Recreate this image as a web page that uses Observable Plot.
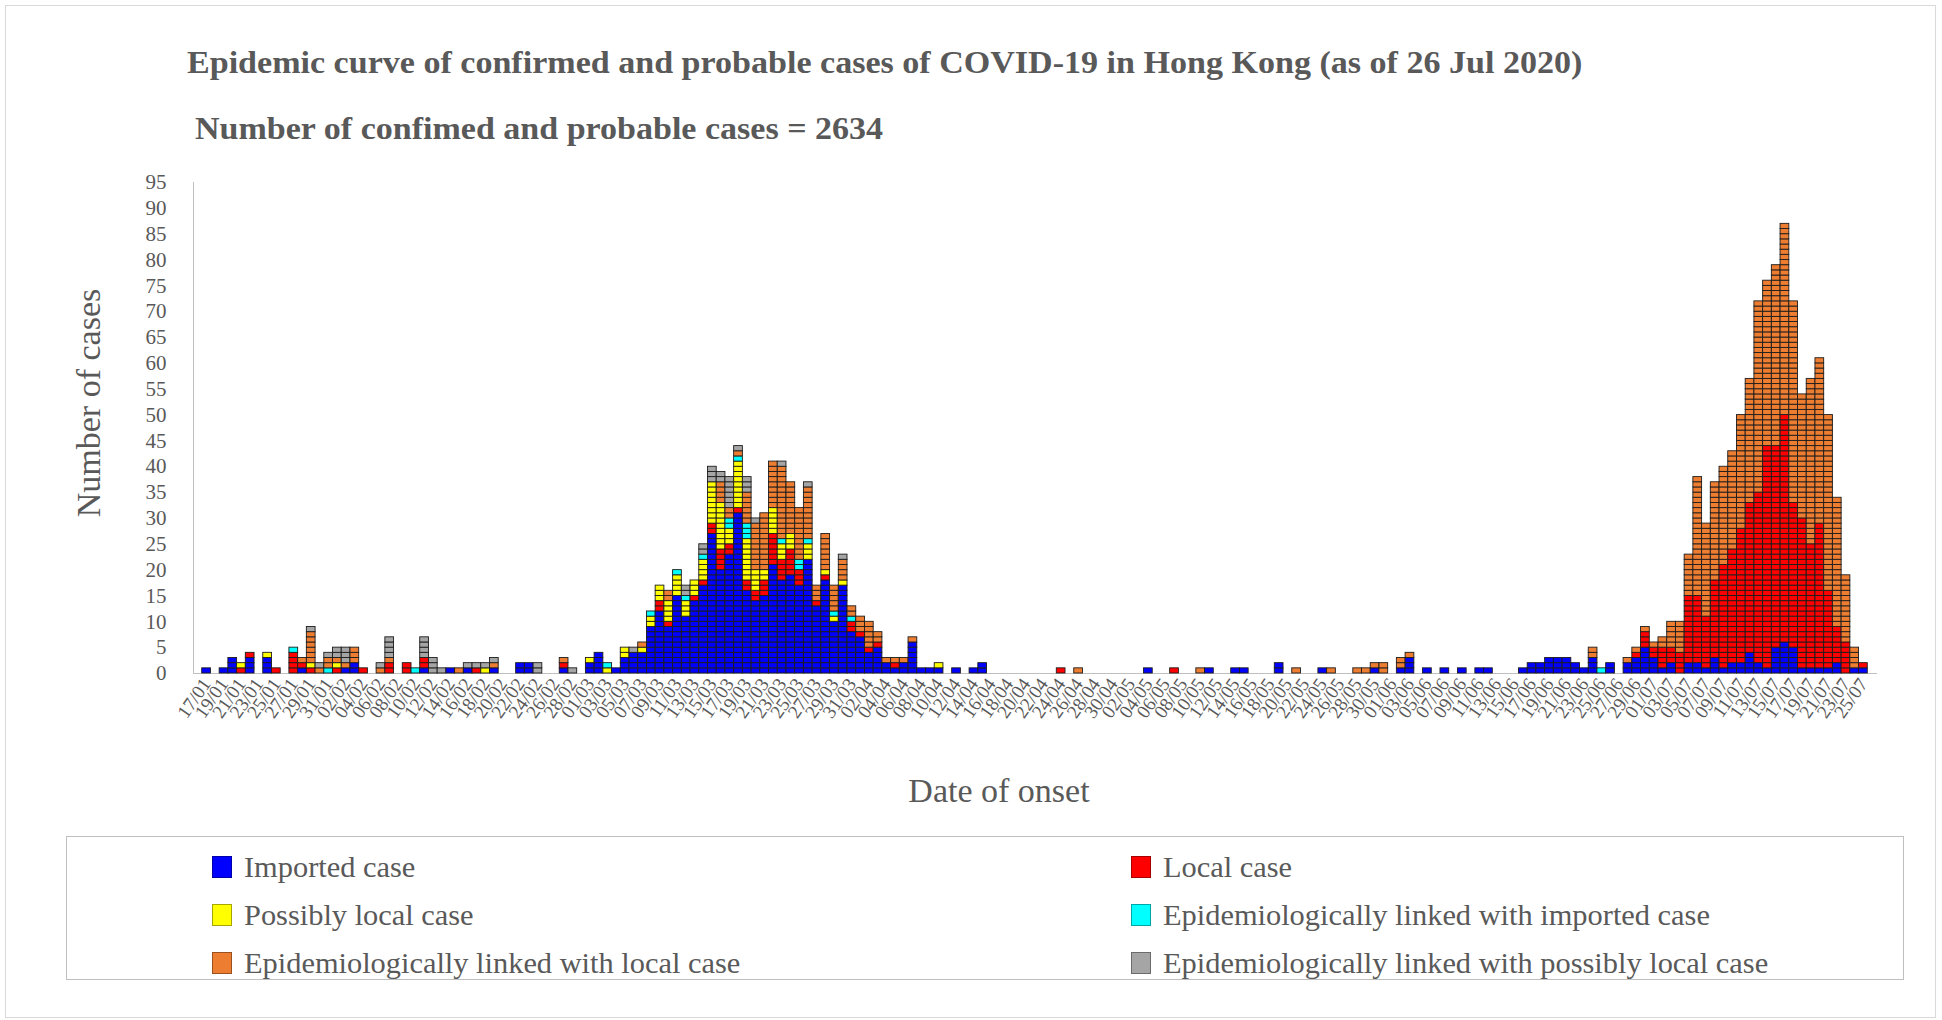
<!DOCTYPE html>
<html>
<head>
<meta charset="utf-8">
<script src="https://cdn.jsdelivr.net/npm/d3@7"></script>
<script src="https://cdn.jsdelivr.net/npm/@observablehq/plot@0.6"></script>
<style>
  html, body { margin: 0; padding: 0; background: #fff; width: 1942px; height: 1020px; overflow: hidden;
    font-family: "Liberation Serif", "Times New Roman", serif; }
  #frame { position: absolute; left: 5px; top: 5px; width: 1931px; height: 1013px; border: 1px solid #d9d9d9; box-sizing: border-box; }
  #title { position: absolute; left: 187px; top: 44px; font-weight: bold; font-size: 32px; line-height: 36px; color: #595959; white-space: nowrap;
    transform: scaleX(1.064); transform-origin: 0 50%; }
  #subtitle { position: absolute; left: 195px; top: 110px; font-weight: bold; font-size: 32px; line-height: 36px; color: #595959; white-space: nowrap;
    transform: scaleX(1.063); transform-origin: 0 50%; }
  #chart { position: absolute; left: 0; top: 150px; }
  #chart svg { overflow: visible; }
  #chart g[aria-label^="x-axis"] text { font-size: 19px; fill: #595959; }
  #chart g[aria-label^="y-axis"] text { font-size: 21px; fill: #595959; }
  #legend { position: absolute; left: 66px; top: 836px; width: 1838px; height: 144px; border: 1px solid #bfbfbf; box-sizing: border-box; }
  .item { position: absolute; height: 30px; display: flex; align-items: center; font-size: 30.4px; color: #595959; white-space: nowrap; }
  .sw { width: 20px; height: 22px; margin-right: 12px; box-sizing: border-box; border: 1px solid rgba(0,0,0,0.35); flex: none; }
</style>
</head>
<body>
<div id="frame"></div>
<div id="title">Epidemic curve of confirmed and probable cases of COVID-19 in Hong Kong (as of 26 Jul 2020)</div>
<div id="subtitle">Number of confimed and probable cases = 2634</div>
<div id="chart"></div>
<div id="legend"></div>
<script>
// ---- categories ----
const startDate = "2020-01-17";
const endDate = "2020-07-25";
const dates = d3.utcDay.range(new Date(startDate + "T00:00Z"), d3.utcDay.offset(new Date(endDate + "T00:00Z"), 1)).map(d3.utcFormat("%d/%m"));
const yTicks = [0, 5, 10, 15, 20, 25, 30, 35, 40, 45, 50, 55, 60, 65, 70, 75, 80, 85, 90, 95];

const seriesNames = [
  "Imported case",
  "Local case",
  "Possibly local case",
  "Epidemiologically linked with imported case",
  "Epidemiologically linked with local case",
  "Epidemiologically linked with possibly local case"
];
const seriesColors = ["#0000FF", "#FF0000", "#FFFF00", "#00FFFF", "#ED7D31", "#A5A5A5"];
const legendOrder = [0, 1, 2, 3, 4, 5];

// ---- daily values (17/01 .. 25/07), rows of 10 days ----
const imported = [
  1,0,1,3,0,3,0,3,0,0,
  0,1,0,0,0,0,1,2,0,0,
  0,0,0,0,0,1,0,0,1,0,
  1,0,0,1,0,0,2,2,0,0,
  0,1,0,0,2,4,0,1,3,4,
  4,9,12,9,15,11,14,17,27,20,
  23,31,16,14,15,21,18,19,17,22,
  13,18,10,17,8,7,4,5,2,1,
  2,6,1,1,1,0,1,0,1,2,
  0,0,0,0,0,0,0,0,0,0,
  0,0,0,0,0,0,0,0,1,0,
  0,0,0,0,0,1,0,0,1,1,
  0,0,0,2,0,0,0,0,1,0,
  0,0,0,0,1,0,0,1,3,0,
  1,0,1,0,1,0,1,1,0,0,
  0,1,2,2,3,3,3,2,1,3,
  0,2,0,2,3,5,3,1,2,0,
  2,2,1,3,1,2,2,4,2,1,
  5,6,5,1,1,1,1,2,0,1,1
];
const local = [
  0,0,0,0,1,1,0,0,1,0,
  4,1,1,0,0,1,0,0,1,0,
  0,2,0,2,0,2,0,0,0,0,
  0,1,0,0,0,0,0,0,0,0,
  0,1,0,0,0,0,0,0,0,0,
  0,0,2,1,0,0,1,1,2,4,
  2,1,2,2,3,6,4,5,3,0,
  1,1,0,0,2,1,1,1,0,1,
  0,0,0,0,0,0,0,0,0,0,
  0,0,0,0,0,0,0,0,1,0,
  0,0,0,0,0,0,0,0,0,0,
  0,1,0,0,0,0,0,0,0,0,
  0,0,0,0,0,0,0,0,0,0,
  0,0,0,0,0,0,0,0,0,0,
  0,0,0,0,0,0,0,0,0,0,
  0,0,0,0,0,0,0,0,0,0,
  0,0,0,0,1,3,2,4,3,4,
  13,13,10,15,20,22,26,29,33,43,
  39,44,28,29,24,28,15,7,6,0,1
];
const possiblyLocal = [
  0,0,0,0,1,0,0,1,0,0,
  0,0,1,0,0,1,0,0,0,0,
  0,0,0,0,0,0,0,0,0,0,
  0,0,1,0,0,0,0,0,0,0,
  0,0,0,0,1,0,1,0,2,0,
  1,2,3,4,4,3,3,4,8,9,
  3,9,8,4,2,5,3,3,0,3,
  0,1,1,1,0,0,0,0,0,0,
  0,0,0,0,1,0,0,0,0,0,
  0,0,0,0,0,0,0,0,0,0,
  0,0,0,0,0,0,0,0,0,0,
  0,0,0,0,0,0,0,0,0,0,
  0,0,0,0,0,0,0,0,0,0,
  0,0,0,0,0,0,0,0,0,0,
  0,0,0,0,0,0,0,0,0,0,
  0,0,0,0,0,0,0,0,0,0,
  0,0,0,0,0,0,0,0,0,0,
  0,0,0,0,0,0,0,0,0,0,
  0,0,0,0,0,0,0,0,0,0,0
];
const epiImported = [
  0,0,0,0,0,0,0,0,0,0,
  1,0,0,0,1,0,0,0,0,0,
  0,0,0,0,1,0,0,0,0,0,
  0,0,0,0,0,0,0,0,0,0,
  0,0,0,0,0,0,1,0,0,0,
  0,1,0,0,1,1,0,1,0,0,
  2,1,3,0,0,0,1,0,2,1,
  0,0,1,0,1,0,0,0,0,0,
  0,0,0,0,0,0,0,0,0,0,
  0,0,0,0,0,0,0,0,0,0,
  0,0,0,0,0,0,0,0,0,0,
  0,0,0,0,0,0,0,0,0,0,
  0,0,0,0,0,0,0,0,0,0,
  0,0,0,0,0,0,0,0,0,0,
  0,0,0,0,0,0,0,0,0,0,
  0,0,0,0,0,0,0,0,0,0,
  1,0,0,0,0,0,0,0,0,0,
  0,0,0,0,0,0,0,0,0,0,
  0,0,0,0,0,0,0,0,0,0,0
];
const epiLocal = [
  0,0,0,0,0,0,0,0,0,0,
  0,1,6,1,2,1,1,3,0,0,
  1,1,0,0,0,0,0,0,0,1,
  0,0,0,1,0,0,0,0,0,0,
  0,1,0,0,0,0,0,0,0,0,
  1,0,0,2,0,0,0,0,0,4,
  2,1,6,9,11,9,14,10,10,10,
  3,7,5,4,2,3,5,2,1,1,
  1,1,0,0,0,0,0,0,0,0,
  0,0,0,0,0,0,0,0,0,0,
  1,0,0,0,0,0,0,0,0,0,
  0,0,0,0,1,0,0,0,0,0,
  0,0,0,0,0,1,0,0,0,1,
  0,0,1,1,1,2,0,2,1,0,
  0,0,0,0,0,0,0,0,0,0,
  0,0,0,0,0,0,0,0,0,2,
  0,0,0,1,1,1,1,2,5,6,
  8,23,18,19,19,19,22,24,37,32,
  35,37,39,24,32,32,34,25,13,4,0
];
const epiPossiblyLocal = [
  0,0,0,0,0,0,0,0,0,0,
  0,0,1,1,1,2,3,0,0,0,
  1,4,0,0,0,4,3,1,0,0,
  1,1,1,1,0,0,0,0,2,0,
  0,0,1,0,0,0,0,0,0,1,
  0,0,0,0,0,2,0,2,3,2,
  6,1,3,1,0,0,1,0,0,1,
  0,0,0,1,0,0,0,0,0,0,
  0,0,0,0,0,0,0,0,0,0,
  0,0,0,0,0,0,0,0,0,0,
  0,0,0,0,0,0,0,0,0,0,
  0,0,0,0,0,0,0,0,0,0,
  0,0,0,0,0,0,0,0,0,0,
  0,0,0,0,0,0,0,0,0,0,
  0,0,0,0,0,0,0,0,0,0,
  0,0,0,0,0,0,0,0,0,0,
  0,0,0,0,0,0,0,0,0,0,
  0,0,0,0,0,0,0,0,0,0,
  0,0,0,0,0,0,0,0,0,0,0
];

const seriesValues = [imported, local, possiblyLocal, epiImported, epiLocal, epiPossiblyLocal];

// one record per case, stacked in legend order
const units = [];
dates.forEach((d, i) => {
  let base = 0;
  seriesValues.forEach((vals, s) => {
    const v = vals[i] || 0;
    for (let j = 0; j < v; j++) {
      units.push({date: d, series: seriesNames[s], y1: base, y2: base + 1});
      base++;
    }
  });
});

const labelled = new Set(dates.filter((d, i) => i % 2 === 0));

const chart = Plot.plot({
  width: 1942,
  height: 680,
  marginTop: 32,
  marginBottom: 157,
  marginLeft: 193,
  marginRight: 66,
  style: {background: "transparent", color: "#bfbfbf", fontFamily: "'Liberation Serif', 'Times New Roman', serif", fontSize: "20px", overflow: "visible"},
  x: {type: "band", domain: dates, paddingInner: 0, paddingOuter: 1, tickSize: 0, tickPadding: 7, tickRotate: -55,
      tickFormat: d => labelled.has(d) ? d : "", label: null, line: true},
  y: {domain: [0, 95], ticks: yTicks, tickSize: 0, tickPadding: 27, label: null, line: true},
  color: {domain: seriesNames, range: seriesColors},
  marks: [
    Plot.barY(units, {x: "date", y1: "y1", y2: "y2", fill: "series", stroke: "#1c1c1c", strokeWidth: 0.9, inset: 0}),
    Plot.text(["Number of cases"], {text: d => d, frameAnchor: "left", textAnchor: "middle", lineAnchor: "middle", dx: -104, dy: -25, rotate: -90, fontSize: 34, fill: "#595959"}),
    Plot.text(["Date of onset"], {text: d => d, frameAnchor: "bottom", textAnchor: "middle", lineAnchor: "middle", dx: -36, dy: 118, fontSize: 34, fill: "#595959"})
  ]
});
document.getElementById("chart").appendChild(chart);

// legend
const legend = document.getElementById("legend");
const colLeft = [145, 1064];
const rowTop = [15, 63, 111];
legendOrder.forEach((s, i) => {
  const item = document.createElement("div");
  item.className = "item";
  item.style.left = colLeft[i % 2] + "px";
  item.style.top = rowTop[Math.floor(i / 2)] + "px";
  const sw = document.createElement("span");
  sw.className = "sw";
  sw.style.background = seriesColors[s];
  item.appendChild(sw);
  item.appendChild(document.createTextNode(seriesNames[s]));
  legend.appendChild(item);
});
</script>
</body>
</html>
